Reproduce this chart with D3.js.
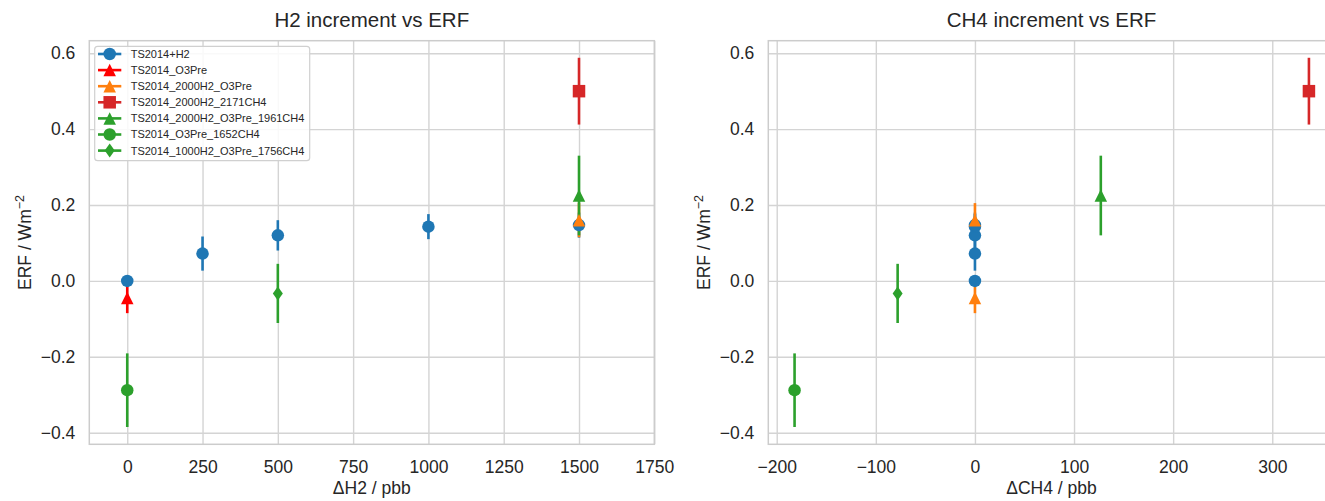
<!DOCTYPE html>
<html><head><meta charset="utf-8">
<script src="https://cdn.jsdelivr.net/npm/d3@7"></script>
<style>
body{margin:0;background:#fff;overflow:hidden;}
text{font-family:"Liberation Sans", Arial, sans-serif;fill:#262626;}
</style></head><body>
<svg id="chart" width="1325" height="501"></svg>
<script>
// ---------------- data ----------------
const seriesNames = ["TS2014+H2","TS2014_O3Pre","TS2014_2000H2_O3Pre","TS2014_2000H2_2171CH4",
  "TS2014_2000H2_O3Pre_1961CH4","TS2014_O3Pre_1652CH4","TS2014_1000H2_O3Pre_1756CH4"];
const colorsLeft  = ["#1f77b4","#ff0000","#ff7f0e","#d62728","#2ca02c","#2ca02c","#2ca02c"];
const colorsRight = ["#1f77b4","#ff7f0e","#ff7f0e","#d62728","#2ca02c","#2ca02c","#2ca02c"];
const markers = ["circle","triangle","triangle","square","triangle","circle","diamond"];
// ΔH2 (ppb) per series
const dH2  = [[0,250,500,1000,1500],[0],[1500],[1500],[1500],[0],[500]];
// ΔCH4 (ppb) per series
const dCH4 = [[0,0,0,0,0],[0],[0],[337],[127],[-182],[-78]];
// ERF (W m-2) per series
const erf    = [[0,0.072,0.12,0.143,0.147],[-0.045],[0.16],[0.5],[0.225],[-0.288],[-0.033]];
const erfErr = [[0.012,0.045,0.04,0.033,0.033],[0.04],[0.045],[0.088],[0.105],[0.097],[0.078]];
const h2Ticks  = [0,250,500,750,1000,1250,1500,1750];
const ch4Ticks = [-200,-100,0,100,200,300];
const erfTicks = [-0.4,-0.2,0.0,0.2,0.4,0.6];

// ---------------- layout ----------------
const svg = d3.select("#chart");
const yTop = 40.7, yBot = 444.3;
const y = d3.scaleLinear().domain([-0.4306, 0.633]).range([yBot, yTop]);
const xL = d3.scaleLinear().domain([-126, 1750]).range([89.3, 654.3]);
const xR = d3.scaleLinear().domain([-208.5, 363]).range([768.3, 1334.7]);
const GRID = "#d4d4d4", MS = 12.5, ELW = 2.6;

function markerPath(type, s){
  const h = s/2;
  if(type==="triangle") return `M0,${-h}L${h},${h}L${-h},${h}Z`;
  if(type==="square") return `M${-h},${-h}H${h}V${h}H${-h}Z`;
  if(type==="diamond") { const w=s*0.4, hh=s*0.56; return `M0,${-hh}L${w},0L0,${hh}L${-w},0Z`; }
  return d3.arc()({innerRadius:0,outerRadius:h,startAngle:0,endAngle:2*Math.PI});
}

function panel(x, xTicks, xVals, colors, title, xlabel){
  const [x0,x1] = x.range();
  const g = svg.append("g");
  // grid
  g.append("g").attr("transform",`translate(0,${yBot})`)
    .call(d3.axisBottom(x).tickValues(xTicks).tickSize(-(yBot-yTop)).tickFormat(""))
    .call(a=>{a.select(".domain").remove(); a.selectAll("line").attr("stroke",GRID).attr("stroke-width",1.4);});
  g.append("g").attr("transform",`translate(${x0},0)`)
    .call(d3.axisLeft(y).tickValues(erfTicks).tickSize(-(x1-x0)).tickFormat(""))
    .call(a=>{a.select(".domain").remove(); a.selectAll("line").attr("stroke",GRID).attr("stroke-width",1.4);});
  // frame
  g.append("rect").attr("x",x0).attr("y",yTop).attr("width",x1-x0).attr("height",yBot-yTop)
    .attr("fill","none").attr("stroke","#cccccc").attr("stroke-width",1.5);
  // tick labels
  g.append("g").attr("transform",`translate(0,${yBot})`)
    .call(d3.axisBottom(x).tickValues(xTicks).tickSize(0).tickPadding(16).tickFormat(d3.format("d")))
    .call(a=>{a.select(".domain").remove(); a.selectAll("text").attr("font-size",17.5).attr("fill","#262626").style("font-family","'Liberation Sans', Arial, sans-serif");});
  g.append("g").attr("transform",`translate(${x0},0)`)
    .call(d3.axisLeft(y).tickValues(erfTicks).tickSize(0).tickPadding(14).tickFormat(d3.format(".1f")))
    .call(a=>{a.select(".domain").remove(); a.selectAll("text").attr("font-size",17.5).attr("fill","#262626").style("font-family","'Liberation Sans', Arial, sans-serif");});
  // title & labels
  const cx = (x0+x1)/2;
  g.append("text").attr("x",cx).attr("y",27).attr("text-anchor","middle").attr("font-size",20.5).text(title);
  g.append("text").attr("x",cx).attr("y",494).attr("text-anchor","middle").attr("font-size",17.5).text(xlabel);
  const yl = g.append("text").attr("transform",`translate(${x0-58},${(yTop+yBot)/2}) rotate(-90)`)
    .attr("text-anchor","middle").attr("font-size",17.5);
  yl.append("tspan").text("ERF / Wm");
  yl.append("tspan").attr("dy",-7).attr("font-size",12.5).text("\u22122");
  // data
  const dg = g.append("g");
  const pts = [];
  seriesNames.forEach((n,i)=>xVals[i].forEach((xv,j)=>pts.push({i,xv,yv:erf[i][j],e:erfErr[i][j]})));
  dg.selectAll("line.err").data(pts).join("line").attr("class","err")
    .attr("x1",d=>x(d.xv)).attr("x2",d=>x(d.xv))
    .attr("y1",d=>y(d.yv-d.e)).attr("y2",d=>y(d.yv+d.e))
    .attr("stroke",d=>colors[d.i]).attr("stroke-width",ELW);
  dg.selectAll("path.mk").data(pts).join("path").attr("class","mk")
    .attr("transform",d=>`translate(${x(d.xv)},${y(d.yv)})`)
    .attr("d",d=>markerPath(markers[d.i],MS))
    .attr("fill",d=>colors[d.i]);
}

panel(xL, h2Ticks, dH2, colorsLeft, "H2 increment vs ERF", "\u0394H2 / pbb");
panel(xR, ch4Ticks, dCH4, colorsRight, "CH4 increment vs ERF", "\u0394CH4 / pbb");

// legend (left panel)
const lg = svg.append("g");
lg.append("rect").attr("x",94.7).attr("y",46.3).attr("width",215).attr("height",114.4).attr("rx",3)
  .attr("fill","#fff").attr("fill-opacity",0.85).attr("stroke","#d0d0d0").attr("stroke-width",1.2);
seriesNames.forEach((n,i)=>{
  const ry = 54 + 16.1*i;
  lg.append("line").attr("x1",98).attr("x2",121.3).attr("y1",ry).attr("y2",ry)
    .attr("stroke",colorsLeft[i]).attr("stroke-width",ELW);
  lg.append("path").attr("transform",`translate(109.7,${ry})`).attr("d",markerPath(markers[i],MS)).attr("fill",colorsLeft[i]);
  lg.append("text").attr("x",130.7).attr("y",ry).attr("dy","0.36em").attr("font-size",11).text(n);
});
</script></body></html>
